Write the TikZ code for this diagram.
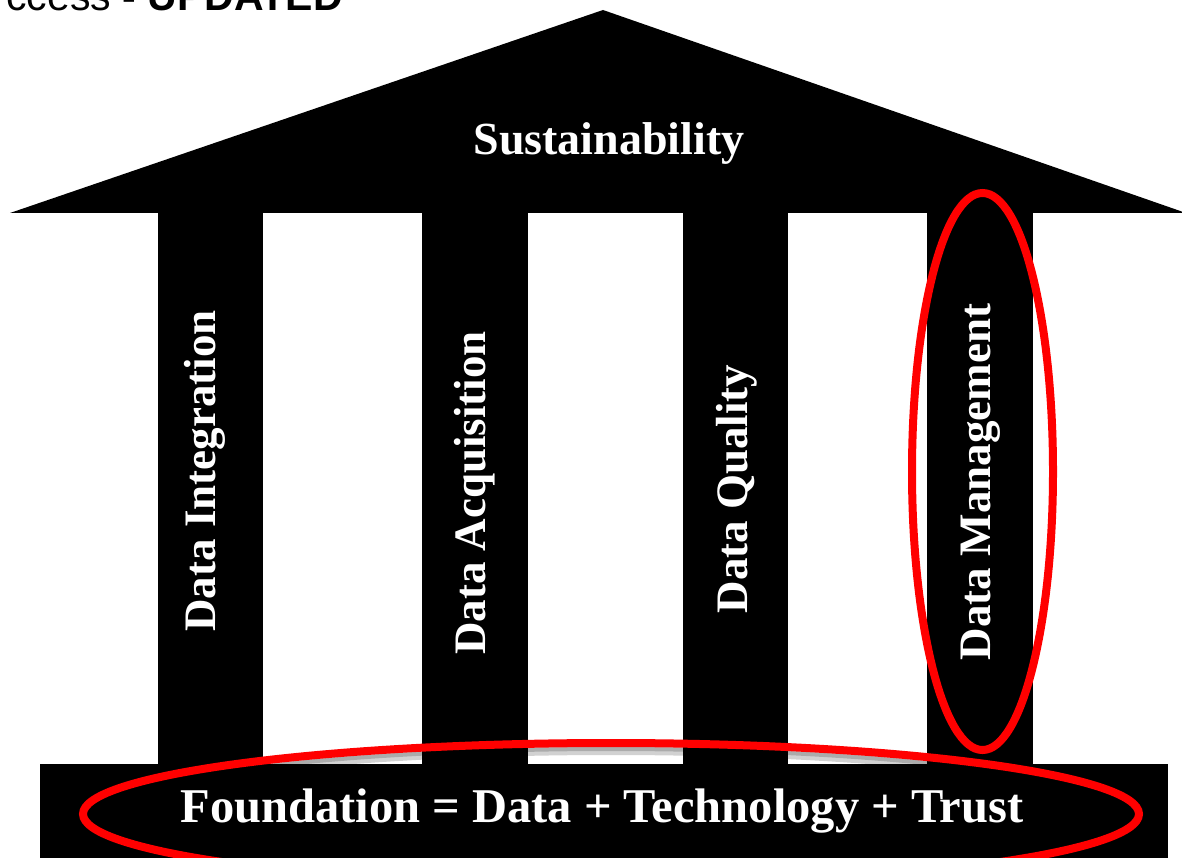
\documentclass[tikz,border=0pt]{standalone}
\usepackage{fontspec}
\setmainfont{Liberation Serif}
\newfontfamily\arialfont{Liberation Sans}
\begin{document}
\begin{tikzpicture}[x=1pt,y=-1pt,
  blk/.style={fill=black,draw=none},
  pillartext/.style={text=white,font=\fontsize{45}{54}\selectfont\bfseries,rotate=90,anchor=base,inner sep=0pt},
  redring/.style={draw=red,line width=8pt},
  shadowring/.style={draw=black,line width=8pt,opacity=0.18}]
\useasboundingbox (0,0) rectangle (1182,858);
\clip (0,0) rectangle (1182,858);
% title fragment
\node[anchor=base east,inner sep=0pt,font=\arialfont\fontsize{41}{48}\selectfont] (title) at (343,11) {ccess \textbf{- UPDATED}};
% roof
\fill[black] (10,213) -- (603,10) -- (1186,213) -- cycle;
\node[text=white,font=\fontsize{46}{55}\selectfont\bfseries,anchor=base,inner sep=0pt] (roof) at (609,155) {Sustainability};
% pillars
\path[blk] (158,212) rectangle (263,766);
\path[blk] (422,212) rectangle (528,766);
\path[blk] (683,212) rectangle (788,766);
\path[blk] (927,212) rectangle (1033,766);
% foundation
\path[blk] (40,764) rectangle (1168,860);
% pillar texts
\node[pillartext] (p1) at (215,471) {Data Integration};
\node[pillartext] (p2) at (485,493) {Data Acquisition};
\node[pillartext] (p3) at (747,489) {Data Quality};
\node[pillartext] (p4) at (990,482) {Data Management};
\node[text=white,font=\fontsize{48.5}{58}\selectfont\bfseries,anchor=base,inner sep=0pt] (found) at (602,822) {Foundation = Data + Technology + Trust};
% red highlight ellipses
\draw[shadowring] (611,822) ellipse [x radius=528, y radius=71];
\draw[shadowring] (611,818) ellipse [x radius=528, y radius=71];
\draw[redring] (611,814) ellipse [x radius=528, y radius=71];
\draw[redring] (982.5,471.5) ellipse [x radius=70.5, y radius=278.5];
\end{tikzpicture}
\end{document}
